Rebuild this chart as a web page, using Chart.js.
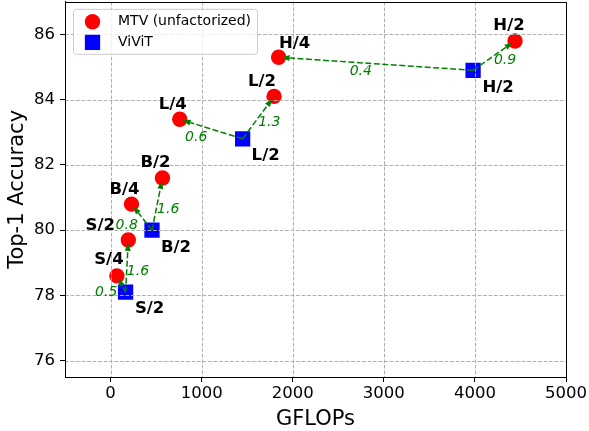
<!DOCTYPE html>
<html>
<head>
<meta charset="utf-8">
<script src="https://cdn.jsdelivr.net/npm/chart.js@4.4.1/dist/chart.umd.min.js"></script>
<style>
  html, body { margin: 0; padding: 0; background: #fff; overflow: hidden; width: 589px; height: 431px; }
  /* Chart.js keeps ~9px above the plot that matplotlib does not; hide it by shifting the canvas up */
  canvas { display: block; position: absolute; left: 0; top: -9px; }
</style>
</head>
<body>
<canvas id="flopsChart" width="589" height="440"></canvas>
<script>
// MTV (unfactorized) models
const mtvNames = ['S/4', 'S/2', 'B/4', 'B/2', 'L/4', 'L/2', 'H/4', 'H/2'];
const mtvFlops = [70, 195, 230, 570, 760, 1795, 1845, 4440];
const mtvAcc = [78.6, 79.7, 80.8, 81.6, 83.4, 84.1, 85.3, 85.8];

// ViViT baselines
const vivitNames = ['S/2', 'B/2', 'L/2', 'H/2'];
const vivitFlops = [165, 455, 1450, 3980];
const vivitAcc = [78.1, 80.0, 82.8, 84.9];

// arrows go from a ViViT model to an MTV model
const arrowFrom = [0, 0, 1, 1, 2, 2, 3, 3];
const arrowTo = [0, 1, 2, 3, 4, 5, 6, 7];

const xTicks = [0, 1000, 2000, 3000, 4000, 5000];
const yTicks = [76, 78, 80, 82, 84, 86];

// label placement (pixels, relative to the point / arrow middle)
const mtvLabelOffsets = [[-8, -16], [-28, -14], [-7, -14], [-7, -15], [-7, -15], [-12, -15], [16, -14], [-6, -15]];
const vivitLabelOffsets = [[24, 17], [24, 18], [23, 17], [25, 17]];
const gainOffsets = [[-15, 8], [11, 5], [-15, 8], [11, 5], [-15, 8], [11, 5], [-15, 8], [11, 5]];

const FONT = 'DejaVu Sans';

function drawArrow(ctx, x0, y0, x1, y1) {
    const ang = Math.atan2(y1 - y0, x1 - x0);
    const len = Math.hypot(x1 - x0, y1 - y0) - 3; // stop just inside the marker
    const tx = x0 + Math.cos(ang) * len;
    const ty = y0 + Math.sin(ang) * len;
    const headLen = 8, headW = 3;
    const bx = tx - Math.cos(ang) * headLen;
    const by = ty - Math.sin(ang) * headLen;

    ctx.save();
    ctx.strokeStyle = '#008000';
    ctx.fillStyle = '#008000';
    ctx.lineWidth = 1.5;
    ctx.setLineDash([6, 2.5]);
    ctx.beginPath();
    ctx.moveTo(x0, y0);
    ctx.lineTo(bx, by);
    ctx.stroke();
    ctx.setLineDash([]);
    ctx.beginPath();
    ctx.moveTo(tx, ty);
    ctx.lineTo(bx - Math.sin(ang) * headW, by + Math.cos(ang) * headW);
    ctx.lineTo(bx + Math.sin(ang) * headW, by - Math.cos(ang) * headW);
    ctx.closePath();
    ctx.fill();
    ctx.restore();
}

// dashed grid drawn over the markers, like matplotlib does
const gridPlugin = {
    id: 'gridOnTop',
    afterDatasetsDraw(chart) {
        const ctx = chart.ctx;
        const area = chart.chartArea;
        ctx.save();
        ctx.strokeStyle = '#b0b0b0';
        ctx.lineWidth = 1;
        ctx.setLineDash([3.8, 1.7]);
        chart.scales.x.ticks.forEach(t => {
            const px = Math.round(chart.scales.x.getPixelForValue(t.value)) + 0.5;
            ctx.beginPath();
            ctx.moveTo(px, area.top);
            ctx.lineTo(px, area.bottom);
            ctx.stroke();
        });
        chart.scales.y.ticks.forEach(t => {
            const py = Math.round(chart.scales.y.getPixelForValue(t.value)) + 0.5;
            ctx.beginPath();
            ctx.moveTo(area.left, py);
            ctx.lineTo(area.right, py);
            ctx.stroke();
        });
        ctx.restore();
    }
};

// arrows, labels, frame and legend go on top of everything
const overlayPlugin = {
    id: 'overlay',
    afterDraw(chart) {
        const ctx = chart.ctx;
        const xs = chart.scales.x, ys = chart.scales.y;
        const area = chart.chartArea;

        // frame (all four spines)
        ctx.save();
        ctx.strokeStyle = '#000';
        ctx.lineWidth = 1;
        ctx.setLineDash([]);
        ctx.beginPath();
        ctx.rect(Math.round(area.left) + 0.5, Math.round(area.top) + 0.5,
            Math.round(area.right) - Math.round(area.left), Math.round(area.bottom) - Math.round(area.top));
        ctx.stroke();
        ctx.restore();

        // arrows + accuracy gain labels
        arrowFrom.forEach((fi, i) => {
            const ti = arrowTo[i];
            const x0 = xs.getPixelForValue(vivitFlops[fi]), y0 = ys.getPixelForValue(vivitAcc[fi]);
            const x1 = xs.getPixelForValue(mtvFlops[ti]), y1 = ys.getPixelForValue(mtvAcc[ti]);
            drawArrow(ctx, x0, y0, x1, y1);
            const gain = (mtvAcc[ti] - vivitAcc[fi]).toFixed(1);
            ctx.save();
            ctx.fillStyle = '#008000';
            ctx.font = 'italic 14px ' + FONT;
            ctx.textAlign = 'center';
            ctx.textBaseline = 'middle';
            ctx.fillText(gain, (x0 + x1) / 2 + gainOffsets[i][0], (y0 + y1) / 2 + gainOffsets[i][1]);
            ctx.restore();
        });

        // model names
        ctx.save();
        ctx.fillStyle = '#000';
        ctx.font = 'bold 16.5px ' + FONT;
        ctx.textAlign = 'center';
        ctx.textBaseline = 'middle';
        mtvNames.forEach((n, i) => {
            ctx.fillText(n, xs.getPixelForValue(mtvFlops[i]) + mtvLabelOffsets[i][0],
                ys.getPixelForValue(mtvAcc[i]) + mtvLabelOffsets[i][1]);
        });
        vivitNames.forEach((n, i) => {
            ctx.fillText(n, xs.getPixelForValue(vivitFlops[i]) + vivitLabelOffsets[i][0],
                ys.getPixelForValue(vivitAcc[i]) + vivitLabelOffsets[i][1]);
        });
        ctx.restore();

        // legend box
        const lx = area.left + 8, ly = area.top + 7;
        ctx.save();
        ctx.fillStyle = 'rgba(255,255,255,0.8)';
        ctx.strokeStyle = '#cccccc';
        ctx.lineWidth = 1;
        ctx.beginPath();
        ctx.moveTo(lx + 3.5, ly + 0.5);
        ctx.arcTo(lx + 184.5, ly + 0.5, lx + 184.5, ly + 45.5, 3);
        ctx.arcTo(lx + 184.5, ly + 45.5, lx + 0.5, ly + 45.5, 3);
        ctx.arcTo(lx + 0.5, ly + 45.5, lx + 0.5, ly + 0.5, 3);
        ctx.arcTo(lx + 0.5, ly + 0.5, lx + 184.5, ly + 0.5, 3);
        ctx.closePath();
        ctx.fill();
        ctx.stroke();
        chart.data.datasets.forEach((ds, i) => {
            const cy = ly + 13 + i * 20.6;
            ctx.fillStyle = ds.backgroundColor;
            if (ds.pointStyle === 'circle') {
                ctx.beginPath();
                ctx.arc(lx + 19.5, cy, ds.pointRadius, 0, Math.PI * 2);
                ctx.fill();
            } else {
                const s = ds.pointRadius * Math.SQRT1_2;
                ctx.fillRect(lx + 19.5 - s, cy - s, 2 * s, 2 * s);
            }
            ctx.fillStyle = '#000';
            ctx.font = '14px ' + FONT;
            ctx.textAlign = 'left';
            ctx.textBaseline = 'middle';
            ctx.fillText(ds.label, lx + 45, cy);
        });
        ctx.restore();
    }
};

new Chart(document.getElementById('flopsChart'), {
    type: 'scatter',
    data: {
        datasets: [{
            label: 'MTV (unfactorized)',
            data: mtvFlops.map((x, i) => ({ x: x, y: mtvAcc[i] })),
            pointStyle: 'circle',
            pointRadius: 7.7,
            backgroundColor: '#ff0000',
            borderColor: '#ff0000',
            borderWidth: 0
        }, {
            label: 'ViViT',
            data: vivitFlops.map((x, i) => ({ x: x, y: vivitAcc[i] })),
            pointStyle: 'rect',
            pointRadius: 10.8,
            backgroundColor: '#0000ff',
            borderColor: '#0000ff',
            borderWidth: 0
        }]
    },
    options: {
        responsive: false,
        animation: false,
        layout: { padding: { top: 3, right: 23, left: 0, bottom: 0 } },
        plugins: {
            legend: { display: false },
            tooltip: { enabled: false }
        },
        scales: {
            x: {
                type: 'linear',
                min: -500,
                max: 5000,
                afterBuildTicks: scale => { scale.ticks = xTicks.map(v => ({ value: v })); },
                afterFit: scale => {
                    scale.height = 54;
                    scale.paddingLeft = 0;
                    scale.paddingRight = 0;
                },
                ticks: {
                    color: '#000',
                    padding: 2,
                    font: { family: FONT, size: 16.5 },
                    callback: v => String(v)
                },
                grid: {
                    drawOnChartArea: false,
                    color: '#000',
                    tickLength: 5,
                    tickWidth: 1
                },
                border: { display: true, color: '#000', width: 1 },
                title: {
                    display: true,
                    text: 'GFLOPs',
                    color: '#000',
                    font: { family: FONT, size: 21, lineHeight: 1.1 },
                    padding: { top: 0, bottom: 0 }
                }
            },
            y: {
                type: 'linear',
                min: 75.5,
                max: 87,
                afterBuildTicks: scale => { scale.ticks = yTicks.map(v => ({ value: v })); },
                afterFit: scale => {
                    scale.width = 65;
                    scale.paddingTop = 0;
                    scale.paddingBottom = 0;
                },
                ticks: {
                    color: '#000',
                    padding: 5,
                    font: { family: FONT, size: 16.5 },
                    callback: v => String(v)
                },
                grid: {
                    drawOnChartArea: false,
                    color: '#000',
                    tickLength: 5,
                    tickWidth: 1
                },
                border: { display: true, color: '#000', width: 1 },
                title: {
                    display: true,
                    text: 'Top-1 Accuracy',
                    color: '#000',
                    font: { family: FONT, size: 21 },
                    padding: { top: 5, bottom: 0 }
                }
            }
        }
    },
    plugins: [gridPlugin, overlayPlugin]
});
</script>
</body>
</html>
